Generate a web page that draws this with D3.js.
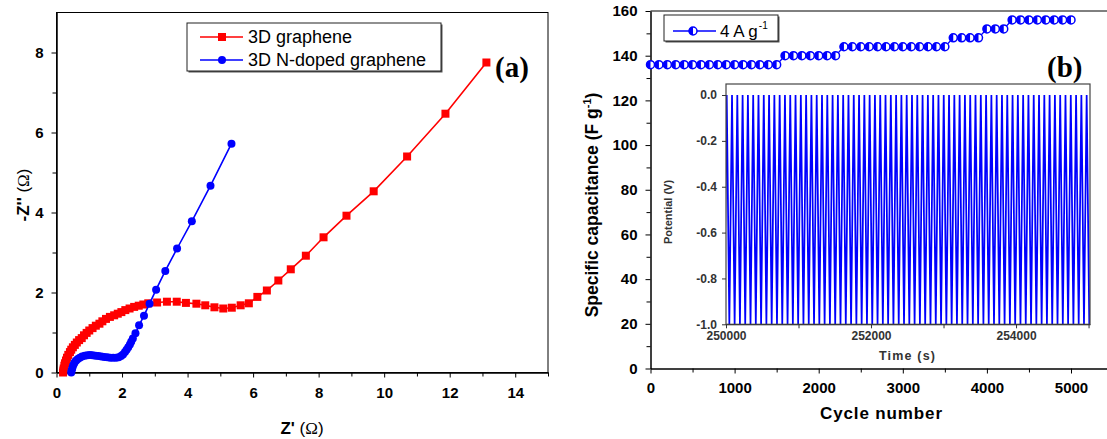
<!DOCTYPE html>
<html><head><meta charset="utf-8">
<script src="https://cdn.jsdelivr.net/npm/d3@7/dist/d3.min.js"></script>
<style>
html,body{margin:0;padding:0;background:#fff;}
svg{display:block;font-family:"Liberation Sans",Arial,sans-serif;}
</style></head><body>
<svg id="chart" width="1107" height="439"></svg>
<script>
// ---------- (a) Nyquist data ----------
const grapheneZre = [0.20,0.21,0.22,0.24,0.26,0.29,0.32,0.36,0.41,0.45,0.50,0.56,0.62,0.69,0.77,0.84,0.92,1.00,1.10,1.20,1.31,1.40,1.51,1.63,1.76,1.87,1.98,2.10,2.23,2.37,2.51,2.65,2.80,3.07,3.37,3.67,3.95,4.27,4.54,4.82,5.09,5.35,5.62,5.87,6.13,6.42,6.77,7.15,7.61,8.15,8.85,9.68,10.70,11.87,13.12];
const grapheneZim = [0.00,0.05,0.10,0.17,0.23,0.30,0.37,0.44,0.51,0.57,0.63,0.69,0.75,0.81,0.86,0.93,0.99,1.05,1.11,1.17,1.22,1.28,1.34,1.39,1.43,1.47,1.51,1.56,1.60,1.64,1.67,1.70,1.73,1.75,1.77,1.77,1.74,1.72,1.68,1.63,1.60,1.62,1.68,1.73,1.89,2.05,2.30,2.58,2.92,3.38,3.92,4.53,5.40,6.47,7.75];
const nGrapheneZre = [0.45,0.46,0.48,0.50,0.53,0.56,0.60,0.65,0.71,0.78,0.86,0.94,1.02,1.10,1.19,1.28,1.37,1.46,1.55,1.64,1.73,1.82,1.90,1.97,2.03,2.09,2.14,2.19,2.24,2.28,2.33,2.41,2.52,2.67,2.84,3.04,3.32,3.68,4.13,4.70,5.34];
const nGrapheneZim = [0.00,0.05,0.10,0.16,0.21,0.26,0.30,0.34,0.37,0.40,0.42,0.43,0.44,0.43,0.42,0.41,0.40,0.39,0.38,0.37,0.37,0.37,0.38,0.41,0.45,0.51,0.57,0.63,0.70,0.77,0.85,0.98,1.18,1.42,1.72,2.07,2.54,3.10,3.78,4.67,5.72];
const eisSeries = ["3D graphene", "3D N-doped graphene"];
const eisXTicks = [0,2,4,6,8,10,12,14];
const eisXMinor = [1,3,5,7,9,11,13,15];
const eisYTicks = [0,2,4,6,8];
const eisYMinor = [1,3,5,7];

// ---------- (b) cycling data ----------
const cycleNumber = [0,100,200,300,400,500,600,700,800,900,1000,1100,1200,1300,1400,1500,
  1600,1700,1800,1900,2000,2100,2200,
  2300,2400,2500,2600,2700,2800,2900,3000,3100,3200,3300,3400,3500,
  3600,3700,3800,3900,
  4000,4100,4200,
  4300,4400,4500,4600,4700,4800,4900,5000];
const capacitance = [136,136,136,136,136,136,136,136,136,136,136,136,136,136,136,136,
  140,140,140,140,140,140,140,
  144,144,144,144,144,144,144,144,144,144,144,144,144,
  148,148,148,148,
  152,152,152,
  156,156,156,156,156,156,156,156];
const cycSeries = "4 A g";
const cycXTicks = [0,1000,2000,3000,4000,5000];
const cycXMinor = [500,1500,2500,3500,4500];
const cycYTicks = [0,20,40,60,80,100,120,140,160];
const cycYMinor = [10,30,50,70,90,110,130,150];

// ---------- (b) inset: charge/discharge potential ----------
const insetPeakTime = [250010,250083,250156,250229,250302,250375,250448,250521,250594,250667,250740,250813,250886,250959,251032,251105,251178,251251,251324,251397,251470,251543,251616,251689,251762,251835,251908,251981,252054,252127,252200,252273,252346,252419,252492,252565,252638,252711,252784,252857,252930,253003,253076,253149,253222,253295,253368,253441,253514,253587,253660,253733,253806,253879,253952,254025,254098,254171,254244,254317,254390,254463,254536,254609,254682,254755,254828,254901,254974];
const insetTroughTime = [249973,250046,250119,250192,250265,250338,250411,250484,250557,250630,250703,250776,250849,250922,250995,251068,251141,251214,251287,251360,251433,251506,251579,251652,251725,251798,251871,251944,252017,252090,252163,252236,252309,252382,252455,252528,252601,252674,252747,252820,252893,252966,253039,253112,253185,253258,253331,253404,253477,253550,253623,253696,253769,253842,253915,253988,254061,254134,254207,254280,254353,254426,254499,254572,254645,254718,254791,254864,254937,255010];
const insetPeakV = [0.0];
const insetTroughV = [-1.0];
const insetXTicks = [250000,252000,254000];
const insetXMinor = [251000,253000,255000];
const insetYTicks = [0.0,-0.2,-0.4,-0.6,-0.8,-1.0];

// ---------- drawing ----------
const svg = d3.select("#chart");
const RED = "#ff0000", BLUE = "#0000ff";
const SANS = "'Liberation Sans', Arial, sans-serif";
const SERIF = "'Liberation Serif', 'Times New Roman', serif";

function styleAxis(g, size, color) {
  g.attr("font-family", SANS).attr("font-size", size).attr("font-weight", "bold");
  g.select(".domain").attr("stroke", color || "#000").attr("stroke-width", 1);
  g.selectAll(".tick line").attr("stroke", color || "#000");
  g.selectAll(".tick text").attr("fill", color || "#000");
}

// ===== Panel (a) =====
const xA = d3.scaleLinear().domain([0, 15]).range([56.5, 548]);
const yA = d3.scaleLinear().domain([0, 9]).range([372.5, 12.5]);

svg.append("rect").attr("x", xA(0)).attr("y", yA(9))
  .attr("width", xA(15) - xA(0)).attr("height", yA(0) - yA(9))
  .attr("fill", "none").attr("stroke", "#000").attr("stroke-width", 1);

const gAx = svg.append("g").attr("transform", `translate(0,${yA(0)})`)
  .call(d3.axisBottom(xA).tickValues(eisXTicks).tickFormat(d3.format("d")).tickSize(5).tickSizeOuter(0).tickPadding(10));
styleAxis(gAx, 15);
const gAxm = svg.append("g").attr("transform", `translate(0,${yA(0)})`)
  .call(d3.axisBottom(xA).tickValues(eisXMinor).tickFormat("").tickSize(4).tickSizeOuter(0));
styleAxis(gAxm, 15);
const gAy = svg.append("g").attr("transform", `translate(${xA(0)},0)`)
  .call(d3.axisLeft(yA).tickValues(eisYTicks).tickFormat(d3.format("d")).tickSize(5).tickSizeOuter(0).tickPadding(8));
styleAxis(gAy, 15);
const gAym = svg.append("g").attr("transform", `translate(${xA(0)},0)`)
  .call(d3.axisLeft(yA).tickValues(eisYMinor).tickFormat("").tickSize(4).tickSizeOuter(0));
styleAxis(gAym, 15);

// axis titles (a)
const xtA = svg.append("text").attr("x", 302).attr("y", 434).attr("text-anchor", "middle")
  .attr("font-size", 17).attr("font-weight", "bold");
xtA.append("tspan").text("Z' ");
xtA.append("tspan").attr("font-weight", "normal").text("(");
xtA.append("tspan").attr("font-weight", "normal").style("font-family", SERIF).text("Ω");
xtA.append("tspan").attr("font-weight", "normal").text(")");

const ytA = svg.append("text").attr("transform", "translate(29,195) rotate(-90)").attr("text-anchor", "middle")
  .attr("font-size", 17).attr("font-weight", "bold");
ytA.append("tspan").text("-Z'' ");
ytA.append("tspan").attr("font-weight", "normal").text("(");
ytA.append("tspan").attr("font-weight", "normal").style("font-family", SERIF).text("Ω");
ytA.append("tspan").attr("font-weight", "normal").text(")");

// series (a)
const redPts = grapheneZre.map((x, i) => [x, grapheneZim[i]]);
const bluePts = nGrapheneZre.map((x, i) => [x, nGrapheneZim[i]]);
const lineA = d3.line().x(d => xA(d[0])).y(d => yA(d[1]));
svg.append("path").attr("d", lineA(redPts)).attr("fill", "none").attr("stroke", RED).attr("stroke-width", 1.6);
svg.append("g").selectAll("rect").data(redPts).join("rect")
  .attr("x", d => xA(d[0]) - 4).attr("y", d => yA(d[1]) - 4).attr("width", 8).attr("height", 8).attr("fill", RED);
svg.append("path").attr("d", lineA(bluePts)).attr("fill", "none").attr("stroke", BLUE).attr("stroke-width", 1.6);
svg.append("g").selectAll("circle").data(bluePts).join("circle")
  .attr("cx", d => xA(d[0])).attr("cy", d => yA(d[1])).attr("r", 4).attr("fill", BLUE);

// legend (a)
svg.append("rect").attr("x", 188.5).attr("y", 24.5).attr("width", 254).attr("height", 48).attr("fill", "#555");
svg.append("rect").attr("x", 187).attr("y", 23).attr("width", 254).attr("height", 48).attr("fill", "#fff").attr("stroke", "#222").attr("stroke-width", 1);
const legA = svg.append("g");
[0, 1].forEach(i => {
  const cy = i === 0 ? 37 : 60;
  const col = i === 0 ? RED : BLUE;
  legA.append("line").attr("x1", 200).attr("x2", 243).attr("y1", cy).attr("y2", cy).attr("stroke", col).attr("stroke-width", 1.6);
  if (i === 0) legA.append("rect").attr("x", 218).attr("y", cy - 4).attr("width", 8).attr("height", 8).attr("fill", col);
  else legA.append("circle").attr("cx", 222).attr("cy", cy).attr("r", 4).attr("fill", col);
  legA.append("text").attr("x", 248).attr("y", cy + 6).attr("font-size", 18).attr("fill", "#000").text(eisSeries[i]);
});
svg.append("text").attr("x", 495).attr("y", 77).style("font-family", SERIF)
  .attr("font-weight", "bold").attr("font-size", 29).text("(a)");

// ===== Panel (b) =====
const xB = d3.scaleLinear().domain([0, 5500]).range([650.5, 650.5 + 5500 * 0.0841]);
const yB = d3.scaleLinear().domain([0, 160]).range([368.5, 11]);

svg.append("line").attr("x1", xB(0)).attr("x2", 1107).attr("y1", yB(160)).attr("y2", yB(160)).attr("stroke", "#000");
const gBx = svg.append("g").attr("transform", `translate(0,${yB(0)})`)
  .call(d3.axisBottom(xB).tickValues(cycXTicks).tickFormat(d3.format("d")).tickSize(5).tickSizeOuter(0).tickPadding(8.5));
styleAxis(gBx, 15);
const gBxm = svg.append("g").attr("transform", `translate(0,${yB(0)})`)
  .call(d3.axisBottom(xB).tickValues(cycXMinor).tickFormat("").tickSize(4).tickSizeOuter(0));
styleAxis(gBxm, 15);
const gBy = svg.append("g").attr("transform", `translate(${xB(0)},0)`)
  .call(d3.axisLeft(yB).tickValues(cycYTicks).tickFormat(d3.format("d")).tickSize(5).tickSizeOuter(0).tickPadding(8));
styleAxis(gBy, 15);
const gBym = svg.append("g").attr("transform", `translate(${xB(0)},0)`)
  .call(d3.axisLeft(yB).tickValues(cycYMinor).tickFormat("").tickSize(4).tickSizeOuter(0));
styleAxis(gBym, 15);

svg.append("text").attr("x", 881).attr("y", 419).attr("text-anchor", "middle")
  .attr("font-size", 17).attr("font-weight", "bold").attr("textLength", 122).attr("lengthAdjust", "spacing")
  .text("Cycle number");
const ytB = svg.append("text").attr("transform", "translate(598,205) rotate(-90)").attr("text-anchor", "middle")
  .attr("font-size", 17.5).attr("font-weight", "bold");
ytB.append("tspan").text("Specific capacitance (F g");
ytB.append("tspan").attr("font-size", 11).attr("dy", -7).text("-1");
ytB.append("tspan").attr("dy", 7).text(")");

// series (b)
const cycPts = cycleNumber.map((c, i) => [c, capacitance[i]]);
const lineB = d3.line().x(d => xB(d[0])).y(d => yB(d[1]));
svg.append("path").attr("d", lineB(cycPts)).attr("fill", "none").attr("stroke", BLUE).attr("stroke-width", 1.3);
function halfCircle(g, cx, cy, r) {
  g.append("circle").attr("cx", cx).attr("cy", cy).attr("r", r).attr("fill", "#fff").attr("stroke", BLUE).attr("stroke-width", 1.5);
  g.append("path").attr("d", `M${cx},${cy - r}A${r},${r} 0 0 0 ${cx},${cy + r}Z`).attr("fill", BLUE);
}
const gMk = svg.append("g");
cycPts.forEach(d => halfCircle(gMk, xB(d[0]), yB(d[1]), 4));

// legend (b)
svg.append("rect").attr("x", 665.5).attr("y", 16.5).attr("width", 114).attr("height", 26).attr("fill", "#555");
svg.append("rect").attr("x", 664).attr("y", 15).attr("width", 114).attr("height", 26).attr("fill", "#fff").attr("stroke", "#222");
svg.append("line").attr("x1", 673).attr("x2", 716).attr("y1", 31).attr("y2", 31).attr("stroke", BLUE).attr("stroke-width", 1.3);
halfCircle(svg.append("g"), 693, 31, 4);
const legB = svg.append("text").attr("x", 720).attr("y", 37).attr("font-size", 17).attr("fill", "#000");
legB.append("tspan").text(cycSeries);
legB.append("tspan").attr("font-size", 10).attr("dy", -8).attr("dx", 1).text("-1");

svg.append("text").attr("x", 1047).attr("y", 77).style("font-family", SERIF)
  .attr("font-weight", "bold").attr("font-size", 29).text("(b)");

// ===== Inset =====
const xI = d3.scaleLinear().domain([250000, 255020]).range([726, 1090]);
const yI = d3.scaleLinear().domain([-1.0, 0.048]).range([324.3, 84]);
svg.append("rect").attr("x", xI(250000)).attr("y", yI(0.048)).attr("width", xI(255020) - xI(250000))
  .attr("height", yI(-1) - yI(0.048)).attr("fill", "#fff");
svg.append("defs").append("clipPath").attr("id", "insetClip").append("rect")
  .attr("x", xI(250000)).attr("y", yI(0.048)).attr("width", xI(255020) - xI(250000)).attr("height", yI(-1) - yI(0.048));

const insetPts = insetPeakTime.map(t => [t, insetPeakV[0]])
  .concat(insetTroughTime.map(t => [t, insetTroughV[0]]))
  .sort((a, b) => a[0] - b[0]);
const lineI = d3.line().x(d => xI(d[0])).y(d => yI(d[1]));
svg.append("path").attr("clip-path", "url(#insetClip)").attr("d", lineI(insetPts))
  .attr("fill", "none").attr("stroke", BLUE).attr("stroke-width", 1.75).attr("stroke-linejoin", "bevel");

svg.append("rect").attr("x", xI(250000)).attr("y", yI(0.048)).attr("width", xI(255020) - xI(250000))
  .attr("height", yI(-1) - yI(0.048)).attr("fill", "none").attr("stroke", "#444").attr("stroke-width", 1.2);

const gIx = svg.append("g").attr("transform", `translate(0,${yI(-1)})`)
  .call(d3.axisBottom(xI).tickValues(insetXTicks).tickFormat(d3.format("d")).tickSize(4).tickSizeOuter(0).tickPadding(3.5));
styleAxis(gIx, 12, "#333");
const gIxm = svg.append("g").attr("transform", `translate(0,${yI(-1)})`)
  .call(d3.axisBottom(xI).tickValues(insetXMinor).tickFormat("").tickSize(4).tickSizeOuter(0));
styleAxis(gIxm, 12, "#333");
const gIy = svg.append("g").attr("transform", `translate(${xI(250000)},0)`)
  .call(d3.axisLeft(yI).tickValues(insetYTicks).tickFormat(d3.format(".1f")).tickSize(4).tickSizeOuter(0).tickPadding(5));
styleAxis(gIy, 12, "#333");
gIx.select(".domain").remove(); gIy.select(".domain").remove();
gIy.selectAll(".tick text").text(d => d3.format(".1f")(d).replace("−", "-"));

svg.append("text").attr("x", 907).attr("y", 360).attr("text-anchor", "middle").attr("fill", "#333")
  .attr("font-size", 12.5).attr("font-weight", "bold").attr("textLength", 56).attr("lengthAdjust", "spacing").text("Time (s)");
svg.append("text").attr("transform", "translate(672,212) rotate(-90)").attr("text-anchor", "middle").attr("fill", "#333")
  .attr("font-size", 11).attr("font-weight", "bold").text("Potential (V)");
</script>
</body></html>
